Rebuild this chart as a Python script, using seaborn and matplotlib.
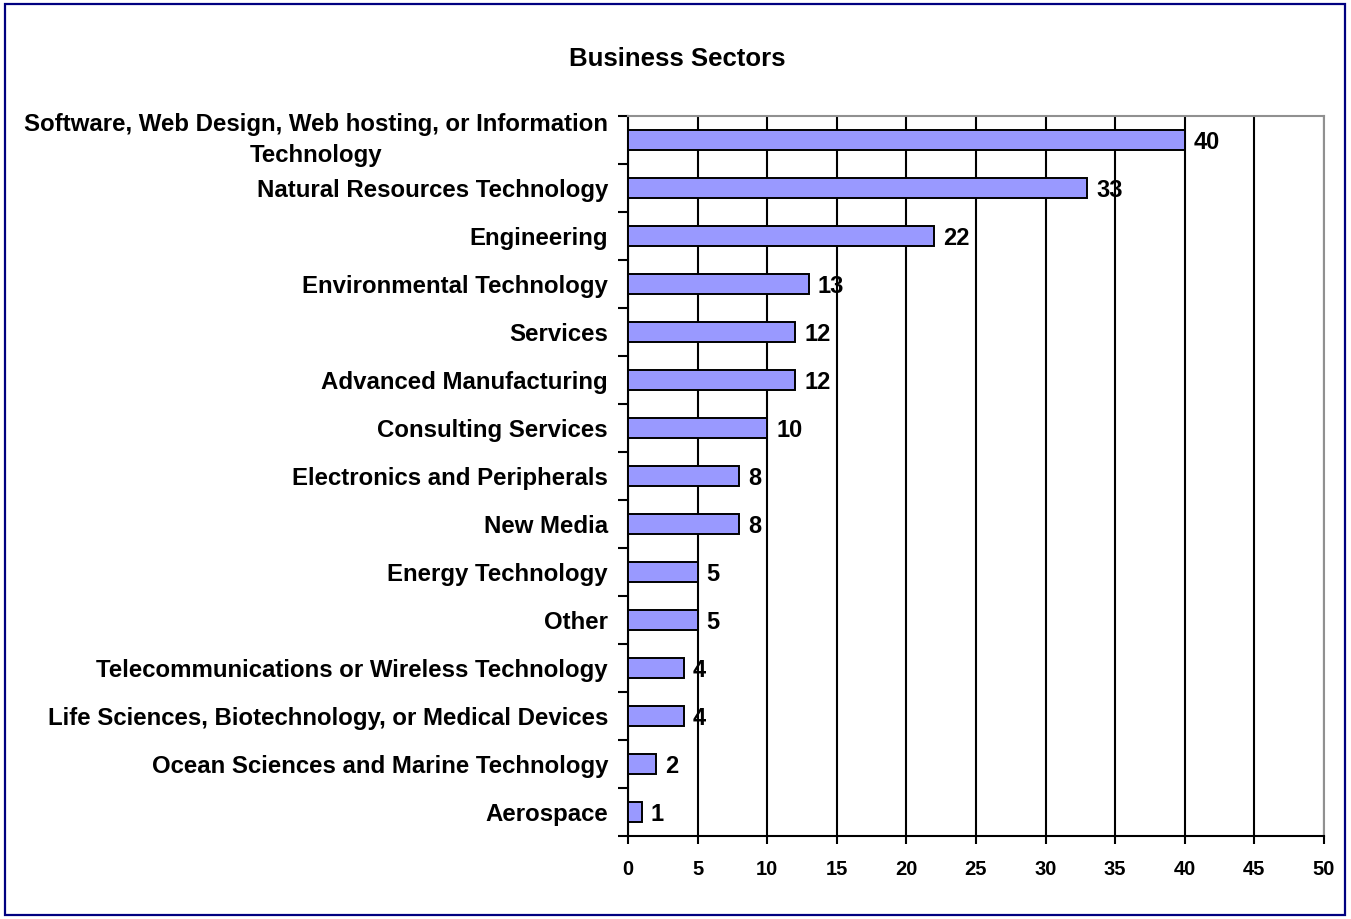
import matplotlib
matplotlib.use("Agg")
import matplotlib.pyplot as plt
from matplotlib.patches import Rectangle
from matplotlib.ticker import FixedLocator
import seaborn as sns
import pandas as pd
import numpy as np

sectors = [
    "Software, Web Design, Web hosting, or Information\nTechnology",
    "Natural Resources Technology",
    "Engineering",
    "Environmental Technology",
    "Services",
    "Advanced Manufacturing",
    "Consulting Services",
    "Electronics and Peripherals",
    "New Media",
    "Energy Technology",
    "Other",
    "Telecommunications or Wireless Technology",
    "Life Sciences, Biotechnology, or Medical Devices",
    "Ocean Sciences and Marine Technology",
    "Aerospace",
]
counts = [40, 33, 22, 13, 12, 12, 10, 8, 8, 5, 5, 4, 4, 2, 1]
x_ticks = [0, 5, 10, 15, 20, 25, 30, 35, 40, 45, 50]

df = pd.DataFrame({"sector": sectors, "count": counts})

sns.set_theme(style="white")
plt.rcParams["font.family"] = ["Liberation Sans", "DejaVu Sans"]
plt.rcParams["font.weight"] = "bold"

W, H = 1351, 919
fig = plt.figure(figsize=(W / 100, H / 100), dpi=100)
fig.patch.set_facecolor("white")
ax = fig.add_axes([628 / W, 1 - 836 / H, (1324 - 628) / W, (836 - 116) / H])

sns.barplot(data=df, y="sector", x="count", orient="h", order=sectors,
            color="#9999FF", saturation=1, edgecolor="black", linewidth=1.4,
            width=0.4, ax=ax, zorder=3)

ax.set_xlim(0, 50)
ax.set_ylim(len(sectors) - 0.5, -0.5)
ax.set_xticks(x_ticks)
ax.set_xticklabels([str(t) for t in x_ticks], fontsize=14.5, fontweight="bold")
ylabels = ax.set_yticklabels(sectors, fontsize=17.3, fontweight="bold",
                             multialignment="center", linespacing=1.45)
# two-line label: center the whole block on its bar
for lab in ylabels:
    if "\n" in lab.get_text():
        lab.set_verticalalignment("center")
ax.set_xlabel("")
ax.set_ylabel("")

# vertical gridlines
ax.xaxis.grid(True, color="black", linewidth=1.5, zorder=1)
ax.yaxis.grid(False)
ax.set_axisbelow(True)

# tick marks at category boundaries on the y axis
ax.yaxis.set_minor_locator(FixedLocator(np.arange(-0.5, len(sectors), 1.0)))
ax.tick_params(axis="y", which="major", length=0, pad=14.4, colors="black")
ax.tick_params(axis="y", which="minor", length=7, width=1.5, color="black", left=True)
ax.tick_params(axis="x", which="major", length=6, width=1.5, color="black",
               pad=11.5, bottom=True, labelcolor="black")

for side in ["left", "bottom"]:
    ax.spines[side].set_color("black")
    ax.spines[side].set_linewidth(1.5)
for side in ["top", "right"]:
    ax.spines[side].set_color("#909090")
    ax.spines[side].set_linewidth(1.5)

# value labels
for i, v in enumerate(counts):
    ax.annotate(str(v), xy=(v, i), xytext=(6.5, -1.8), textcoords="offset points",
                va="center", ha="left", fontsize=17, fontweight="bold",
                color="black", zorder=4)

fig.text(677 / W, 1 - 58.5 / H, "Business Sectors", ha="center", va="center",
         fontsize=18.5, fontweight="bold", color="black")

# outer frame
fig.patches.append(Rectangle((5.5 / W, 4 / H), (1345 - 5.5) / W, (915 - 4) / H,
                             transform=fig.transFigure, fill=False,
                             edgecolor="#000080", linewidth=1.6))

fig.savefig("out.png", dpi=100, facecolor="white")
